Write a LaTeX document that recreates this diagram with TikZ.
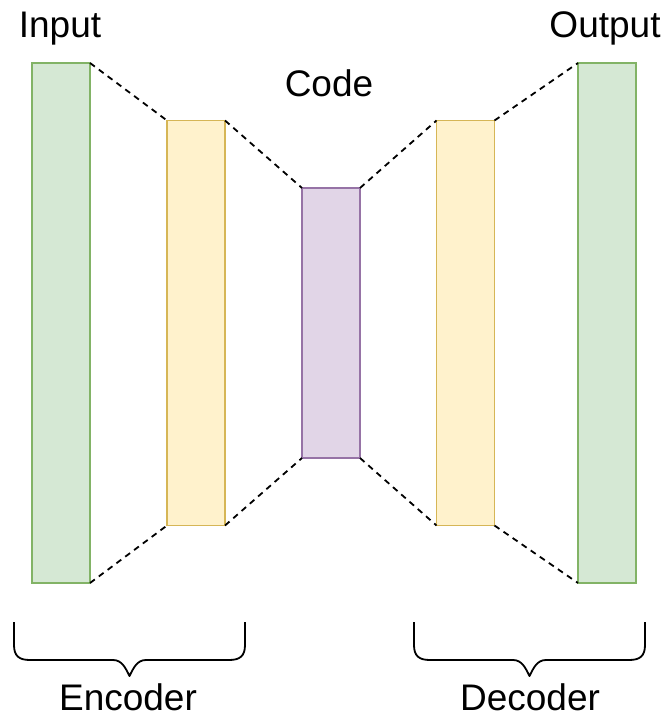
\documentclass[tikz,border=0pt]{standalone}
\usepackage{fontspec}
\setmainfont{Liberation Sans}
\usetikzlibrary{positioning}

\definecolor{greenfill}{HTML}{D5E8D4}
\definecolor{greenline}{HTML}{82B366}
\definecolor{yellowfill}{HTML}{FFF2CC}
\definecolor{yellowline}{HTML}{D6B656}
\definecolor{purplefill}{HTML}{E1D5E7}
\definecolor{purpleline}{HTML}{9673A6}

\begin{document}
\begin{tikzpicture}[x=1pt,y=-1pt]
      \useasboundingbox (0,0) rectangle (669,718);

      \begin{scope}[every node/.style={rectangle,draw,line width=1.6pt,minimum width=58pt,inner sep=0pt,outer sep=0pt}]
        \node[fill=greenfill,draw=greenline,minimum height=520pt]   (in)   at (61,323)    {};
        \node[fill=yellowfill,draw=yellowline,minimum height=405pt] (enc)  at (196,323)   {};
        \node[fill=purplefill,draw=purpleline,minimum height=270pt] (code) at (331,323)   {};
        \node[fill=yellowfill,draw=yellowline,minimum height=405pt] (dec)  at (465.5,323) {};
        \node[fill=greenfill,draw=greenline,minimum height=520pt]   (out)  at (607,323)   {};
      \end{scope}

      \begin{scope}[every path/.style={draw,line width=1.8pt,dash pattern=on 6pt off 5pt}]
        \path (in.north east)   edge (enc.north west);
        \path (in.south east)   edge (enc.south west);
        \path (enc.north east)  edge (code.north west);
        \path (enc.south east)  edge (code.south west);
        \path (code.north east) edge (dec.north west);
        \path (code.south east) edge (dec.south west);
        \path (dec.north east)  edge (out.north west);
        \path (dec.south east)  edge (out.south west);
      \end{scope}

      % braces under encoder and decoder
      \begin{scope}[line width=1.8pt,line join=round]
        \coordinate (encL) at (14,622);
        \coordinate (encR) at (245,622);
        \coordinate (decL) at (414,622);
        \coordinate (decR) at (645,622);
        \draw (encL) -- ++(0,23) .. controls +(0,11) and +(-11,0) .. ++(16,15) -- (113,660)
              .. controls +(9,0) and +(-4,-8) .. (129.5,676) .. controls +(4,-8) and +(-9,0) .. (146,660)
              -- (229,660) .. controls +(11,0) and +(0,11) .. (245,645) -- (encR);
        \draw (decL) -- ++(0,23) .. controls +(0,11) and +(-11,0) .. ++(16,15) -- (513,660)
              .. controls +(9,0) and +(-4,-8) .. (529.5,676) .. controls +(4,-8) and +(-9,0) .. (546,660)
              -- (629,660) .. controls +(11,0) and +(0,11) .. (645,645) -- (decR);
      \end{scope}

      \begin{scope}[every node/.style={anchor=base,inner sep=0pt,font=\fontsize{37}{44}\selectfont}]
        \node (inlabel)   at (60,37)   {Input};
        \node (outlabel)  at (605,37)  {Output};
        \node (codelabel) at (329,96)  {Code};
        \node (enclabel)  at (128,710) {Encoder};
        \node (declabel)  at (530,710) {Decoder};
      \end{scope}

    \end{tikzpicture}
\end{document}
